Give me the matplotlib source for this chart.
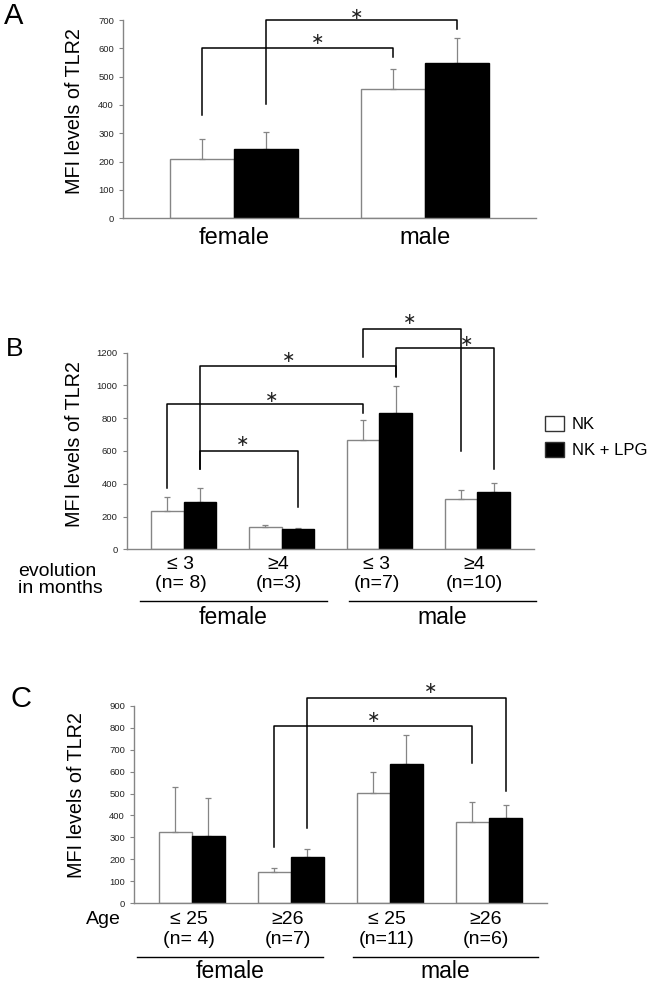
import matplotlib
matplotlib.use("Agg")
import matplotlib.pyplot as plt
from matplotlib.lines import Line2D
import numpy as np

plt.rcParams['font.family'] = ['Liberation Sans', 'DejaVu Sans']

# ---------------- data ----------------
series_names = ['NK', 'NK + LPG']

A_categories = ['female', 'male']
A_nk = [208, 455]
A_nk_err = [71, 71]
A_lpg = [246, 547]
A_lpg_err = [60, 88]

B_categories = ['≤ 3\n(n= 8)', '≥4\n(n=3)', '≤ 3\n(n=7)', '≥4\n(n=10)']
B_nk = [234, 138, 667, 305]
B_nk_err = [83, 8, 120, 55]
B_lpg = [291, 122, 830, 348]
B_lpg_err = [81, 10, 165, 57]

C_categories = ['≤ 25\n(n= 4)', '≥26\n(n=7)', '≤ 25\n(n=11)', '≥26\n(n=6)']
C_nk = [326, 141, 501, 369]
C_nk_err = [202, 20, 98, 94]
C_lpg = [308, 212, 633, 390]
C_lpg_err = [170, 34, 135, 59]

groups = ['female', 'male']

# significance brackets: (left x, right x, left leg bottom, top, right leg bottom, star x, star y)
A_brackets = [(-1/6, 5/6, 365, 600, 570, 0.44, 636),
              (1/6, 7/6, 403, 700, 667, 0.64, 725)]
B_brackets = [(-1/6, 11/6, 372, 887, 834, 0.90, 936),
              (1/6, 13/6, 490, 1117, 1058, 1.07, 1180),
              (1/6, 7/6, 490, 602, 260, 0.60, 667),
              (11/6, 17/6, 1176, 1347, 602, 2.31, 1412),
              (13/6, 19/6, 1054, 1231, 488, 2.89, 1278)]
C_brackets = [(5/6, 17/6, 255, 809, 640, 1.84, 853),
              (7/6, 19/6, 342, 936, 511, 2.41, 985)]

W, H = 650, 984
fig = plt.figure(figsize=(W / 100, H / 100), dpi=100)

SP = '#858585'
BARW = 1 / 3
MARG = 0.582


def fx(px):
    return px / W


def fy(py):
    return 1 - py / H


def make_axes(left, right, top, bottom):
    return fig.add_axes([fx(left), fy(bottom), fx(right) - fx(left), (bottom - top) / H])


def draw_panel(ax, nk, nk_err, lpg, lpg_err, ymax, ystep, brackets):
    x = np.arange(len(nk))
    b1 = ax.bar(x - BARW / 2, nk, BARW, color='white', edgecolor=SP, linewidth=1.0, zorder=2)
    b2 = ax.bar(x + BARW / 2, lpg, BARW, color='black', edgecolor='black', linewidth=1.0, zorder=2)
    ax.errorbar(x - BARW / 2, nk, yerr=[np.zeros(len(nk)), nk_err], fmt='none',
                ecolor=SP, elinewidth=0.9, capsize=2, capthick=0.9, zorder=3)
    ax.errorbar(x + BARW / 2, lpg, yerr=[np.zeros(len(lpg)), lpg_err], fmt='none',
                ecolor=SP, elinewidth=0.9, capsize=2, capthick=0.9, zorder=1)
    ax.set_xlim(-MARG, len(nk) - 1 + MARG)
    ax.set_ylim(0, ymax)
    ax.set_yticks(np.arange(0, ymax + 1, ystep))
    ax.set_xticks([])
    for s in ['top', 'right']:
        ax.spines[s].set_visible(False)
    for s in ['left', 'bottom']:
        ax.spines[s].set_color(SP)
        ax.spines[s].set_linewidth(1.0)
    ax.tick_params(axis='y', direction='out', length=3, width=0.8, color=SP,
                   labelsize=6.8, pad=3.5, labelcolor='#222222')
    for (xl, xr, yl, yt, yr, sx, sy) in brackets:
        ax.add_line(Line2D([xl, xl, xr, xr], [yl, yt, yt, yr], color='black',
                           linewidth=1.1, clip_on=False, zorder=4))
        ax.annotate('∗', (sx, sy), xytext=(0, 0), textcoords='offset points',
                    ha='center', va='center_baseline', fontsize=11.5, color='#222222',
                    family='DejaVu Sans', annotation_clip=False)
    return b1, b2


# ---------------- Panel A ----------------
axA = make_axes(123, 536, 20, 218.3)
draw_panel(axA, A_nk, A_nk_err, A_lpg, A_lpg_err, 700, 100, A_brackets)
for i, lab in enumerate(A_categories):
    axA.text(i, -0.099, lab, transform=axA.get_xaxis_transform(), ha='center',
             va='center', fontsize=17)

# ---------------- Panel B ----------------
axB = make_axes(126.7, 534.3, 352.7, 549.3)
bw, bb = draw_panel(axB, B_nk, B_nk_err, B_lpg, B_lpg_err, 1200, 200, B_brackets)
for i, lab in enumerate(B_categories):
    l1, l2 = lab.split('\n')
    axB.text(i - 0.03, -0.075, l1, transform=axB.get_xaxis_transform(), ha='center',
             va='center', fontsize=14)
    axB.text(i - 0.03, -0.1765, l2, transform=axB.get_xaxis_transform(), ha='center',
             va='center', fontsize=14)

# ---------------- Panel C ----------------
axC = make_axes(134, 546.7, 705.7, 903.3)
draw_panel(axC, C_nk, C_nk_err, C_lpg, C_lpg_err, 900, 100, C_brackets)
for i, lab in enumerate(C_categories):
    l1, l2 = lab.split('\n')
    axC.text(i - 0.03, -0.0795, l1, transform=axC.get_xaxis_transform(), ha='center',
             va='center', fontsize=14)
    axC.text(i - 0.03, -0.185, l2, transform=axC.get_xaxis_transform(), ha='center',
             va='center', fontsize=14)

# ---------------- group underlines & labels ----------------
group_lines_B = [(140, 326.7), (349, 536)]
group_lines_C = [(136.7, 323.3), (352.7, 538.3)]
for (x0, x1), g in zip(group_lines_B, groups):
    fig.add_artist(Line2D([fx(x0), fx(x1)], [fy(601), fy(601)], color='black', linewidth=1.0))
    fig.text(fx((x0 + x1) / 2), fy(617), g, ha='center', va='center', fontsize=16.5)
for (x0, x1), g in zip(group_lines_C, groups):
    fig.add_artist(Line2D([fx(x0), fx(x1)], [fy(956.5), fy(956.5)], color='black', linewidth=1.0))
    fig.text(fx((x0 + x1) / 2), fy(972), g, ha='center', va='center', fontsize=16.5)

fig.text(fx(18), fy(580), 'evolution\nin months', ha='left', va='center', fontsize=14,
         linespacing=1.05)
fig.text(fx(86), fy(919), 'Age', ha='left', va='center', fontsize=14)

# ---------------- y labels ----------------
for (cx, cy) in [(75, 111.5), (75, 444), (76, 795)]:
    fig.text(fx(cx), fy(cy), 'MFI levels of TLR2', rotation=90, ha='center', va='center',
             fontsize=14.2)

# ---------------- panel letters ----------------
fig.text(fx(14), fy(16), 'A', ha='center', va='center', fontsize=21)
fig.text(fx(14.5), fy(349), 'B', ha='center', va='center', fontsize=19)
fig.text(fx(21), fy(699), 'C', ha='center', va='center', fontsize=21)

# ---------------- legend ----------------
leg = fig.legend([bw, bb], series_names, loc='upper left',
                 bbox_to_anchor=(fx(545), fy(416)), frameon=False, fontsize=12,
                 handlelength=1.15, handleheight=1.05, handletextpad=0.45,
                 labelspacing=0.55, borderpad=0, borderaxespad=0)
for h in leg.legend_handles:
    h.set_edgecolor('#333333')

fig.savefig('out.png', dpi=100)
